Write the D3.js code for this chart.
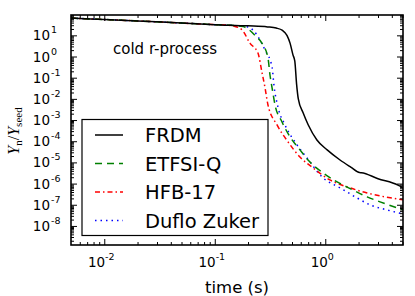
<!DOCTYPE html>
<html>
<head>
<meta charset="utf-8">
<script src="https://cdn.jsdelivr.net/npm/d3@7"></script>
<style>
  body { margin: 0; background: #fff; }
  svg { display: block; font-family: "DejaVu Sans", sans-serif; }
</style>
</head>
<body>
<script>
// time (s) , Y_n/Y_seed
var frdm = [[0.005, 65], [0.01, 56], [0.02, 48], [0.05, 38], [0.1, 32], [0.2, 28], [0.3, 25],
  [0.36, 22], [0.41, 17], [0.45, 10], [0.48, 4.3], [0.51, 1.2], [0.53, 0.6], [0.55, 0.05],
  [0.57, 0.01], [0.63, 0.0022], [0.7, 6e-4], [0.84, 1.15e-4], [1.04, 3.9e-5], [1.36, 1.3e-5],
  [1.7, 6e-6], [2.04, 3.3e-6], [2.12, 3.25e-6], [3, 1.7e-6], [4.55, 8.5e-7], [5.05, 6.3e-7]];
var etfsi = [[0.005, 65], [0.01, 56], [0.02, 48], [0.05, 38], [0.1, 32], [0.15, 29], [0.18, 26],
  [0.2, 20], [0.235, 9], [0.267, 4.3], [0.303, 0.85], [0.316, 0.134], [0.33, 0.033],
  [0.351, 5.15e-3], [0.406, 8.1e-4], [0.48, 1.6e-4], [0.59, 3.9e-5], [0.698, 1.3e-5],
  [0.955, 3.2e-6], [1.28, 1.2e-6], [1.78, 5.0e-7], [2.39, 2.36e-7], [3.13, 1.37e-7], [5.05, 5.8e-8]];
var hfb = [[0.005, 65], [0.01, 56], [0.02, 48], [0.05, 38], [0.1, 32], [0.13, 30], [0.15, 27],
  [0.177, 17.8], [0.208, 4.3], [0.246, 1.46], [0.267, 0.186], [0.285, 0.033], [0.303, 5.15e-3],
  [0.366, 5.9e-4], [0.46, 9.3e-5], [0.59, 1.8e-5], [0.774, 5.5e-6], [1.1, 1.5e-6],
  [1.67, 6.3e-7], [2.39, 3.6e-7], [3.47, 2.36e-7], [5.05, 1.7e-7]];
var duflo = [[0.005, 65], [0.01, 56], [0.02, 48], [0.05, 38], [0.1, 32], [0.15, 29], [0.2, 25],
  [0.241, 10.3], [0.285, 2.0], [0.33, 0.32], [0.343, 0.045], [0.373, 4.1e-3], [0.432, 5.9e-4],
  [0.555, 6.7e-5], [0.684, 1.6e-5], [0.955, 1.86e-6], [1.36, 6.3e-7], [1.94, 2.1e-7],
  [2.54, 9.9e-8], [3.62, 5.7e-8], [5.05, 3.7e-8]];

var seriesNames = ["FRDM", "ETFSI-Q", "HFB-17", "Duflo Zuker"];
var xMajor = [-2, -1, 0];            // exponents
var yMajor = [1, 0, -1, -2, -3, -4, -5, -6, -7, -8];

var width = 415, height = 296;
var mLeft = 71, mRight = 403, mTop = 15, mBottom = 245;

var svg = d3.select("body").append("svg")
    .attr("width", width)
    .attr("height", height);

var x = d3.scaleLog().domain([0.005, 5.05]).range([mLeft, mRight]);
var y = d3.scaleLog().domain([Math.pow(10, -8.9), Math.pow(10, 1.96)]).range([mBottom, mTop]);

// minor ticks, 2..9 in every decade inside the domain
function minors(scale, lo, hi) {
  var out = [];
  var d = scale.domain();
  for (var e = lo; e <= hi; e++)
    for (var k = 2; k <= 9; k++) {
      var v = k * Math.pow(10, e);
      if (v > d[0] && v < d[1]) out.push(v);
    }
  return out;
}

svg.append("defs").append("clipPath").attr("id", "plot")
  .append("rect").attr("x", mLeft).attr("y", mTop)
    .attr("width", mRight - mLeft).attr("height", mBottom - mTop);

var line = d3.line()
    .x(function(d) { return x(d[0]); })
    .y(function(d) { return y(d[1]); })
    .curve(d3.curveMonotoneX);

var styles = [
  { data: frdm, color: "#000000", dash: null },
  { data: etfsi, color: "#008000", dash: "7,5" },
  { data: hfb, color: "#ff0000", dash: "5,3,1.5,3" },
  { data: duflo, color: "#0000ff", dash: "1.5,4" }
];

var g = svg.append("g").attr("clip-path", "url(#plot)");
// draw in reverse so FRDM lies on top
styles.slice().reverse().forEach(function(s) {
  g.append("path")
    .attr("d", line(s.data))
    .attr("fill", "none")
    .attr("stroke", s.color)
    .attr("stroke-width", 1.5)
    .attr("stroke-dasharray", s.dash);
});

// axes, ticks pointing inward on all four sides
function tickAxis(axis, scale, vals, size, tr) {
  var a = axis(scale).tickValues(vals).tickSize(size).tickFormat("");
  var sel = svg.append("g").attr("transform", tr).call(a);
  sel.select(".domain").remove();
  sel.selectAll("line").attr("stroke", "#000").attr("stroke-width", 1);
}
var xm = xMajor.map(function(e) { return Math.pow(10, e); });
var ym = yMajor.map(function(e) { return Math.pow(10, e); });
var xmin = minors(x, -3, 0), ymin = minors(y, -9, 1);

tickAxis(d3.axisBottom, x, xm, -6, "translate(0," + mBottom + ")");
tickAxis(d3.axisBottom, x, xmin, -3, "translate(0," + mBottom + ")");
tickAxis(d3.axisTop, x, xm, -6, "translate(0," + mTop + ")");
tickAxis(d3.axisTop, x, xmin, -3, "translate(0," + mTop + ")");
tickAxis(d3.axisLeft, y, ym, -6, "translate(" + mLeft + ",0)");
tickAxis(d3.axisLeft, y, ymin, -3, "translate(" + mLeft + ",0)");
tickAxis(d3.axisRight, y, ym, -6, "translate(" + mRight + ",0)");
tickAxis(d3.axisRight, y, ymin, -3, "translate(" + mRight + ",0)");

svg.append("rect")
    .attr("x", mLeft).attr("y", mTop)
    .attr("width", mRight - mLeft).attr("height", mBottom - mTop)
    .attr("fill", "none").attr("stroke", "#000").attr("stroke-width", 1.6);

// tick labels 10^e
xMajor.forEach(function(e) {
  var t = svg.append("text")
      .attr("x", x(Math.pow(10, e)) - 3)
      .attr("y", 266.5)
      .attr("text-anchor", "middle")
      .attr("font-size", 13.5);
  t.append("tspan").text("10");
  t.append("tspan").attr("dy", -7).attr("font-size", 9.5).text(String(e));
});
yMajor.forEach(function(e) {
  var yy = y(Math.pow(10, e)) + 5;
  svg.append("text")
      .attr("x", 50).attr("y", yy)
      .attr("text-anchor", "end")
      .attr("font-size", 13.5)
      .text("10");
  svg.append("text")
      .attr("x", 51).attr("y", yy - 7)
      .attr("font-size", 9.5)
      .text(String(e));
});

svg.append("text")
    .attr("x", (mLeft + mRight) / 2).attr("y", 293)
    .attr("text-anchor", "middle")
    .attr("font-size", 16.5)
    .text("time (s)");

var yl = svg.append("text")
    .attr("transform", "translate(19,131) rotate(-90)")
    .attr("text-anchor", "middle")
    .attr("font-family", "'Liberation Serif', serif")
    .attr("font-size", 16);
yl.append("tspan").attr("font-style", "italic").text("Y");
yl.append("tspan").attr("font-size", 11).attr("dy", 3).text("n");
yl.append("tspan").attr("dy", -3).text("/");
yl.append("tspan").attr("font-style", "italic").text("Y");
yl.append("tspan").attr("font-size", 11).attr("dy", 3).text("seed");

svg.append("text")
    .attr("x", 113).attr("y", 54)
    .attr("font-size", 15)
    .text("cold r-process");

// legend
var leg = svg.append("g");
leg.append("rect")
    .attr("x", 82).attr("y", 119.5)
    .attr("width", 186).attr("height", 116)
    .attr("fill", "#fff").attr("stroke", "#000").attr("stroke-width", 1.2);
seriesNames.forEach(function(name, i) {
  var ly = 135 + i * 28.5;
  leg.append("line")
      .attr("x1", 95).attr("x2", 123).attr("y1", ly).attr("y2", ly)
      .attr("stroke", styles[i].color).attr("stroke-width", 1.5)
      .attr("stroke-dasharray", styles[i].dash);
  leg.append("text")
      .attr("x", 145).attr("y", ly + 7)
      .attr("font-size", 19.5)
      .text(name);
});
</script>
</body>
</html>
